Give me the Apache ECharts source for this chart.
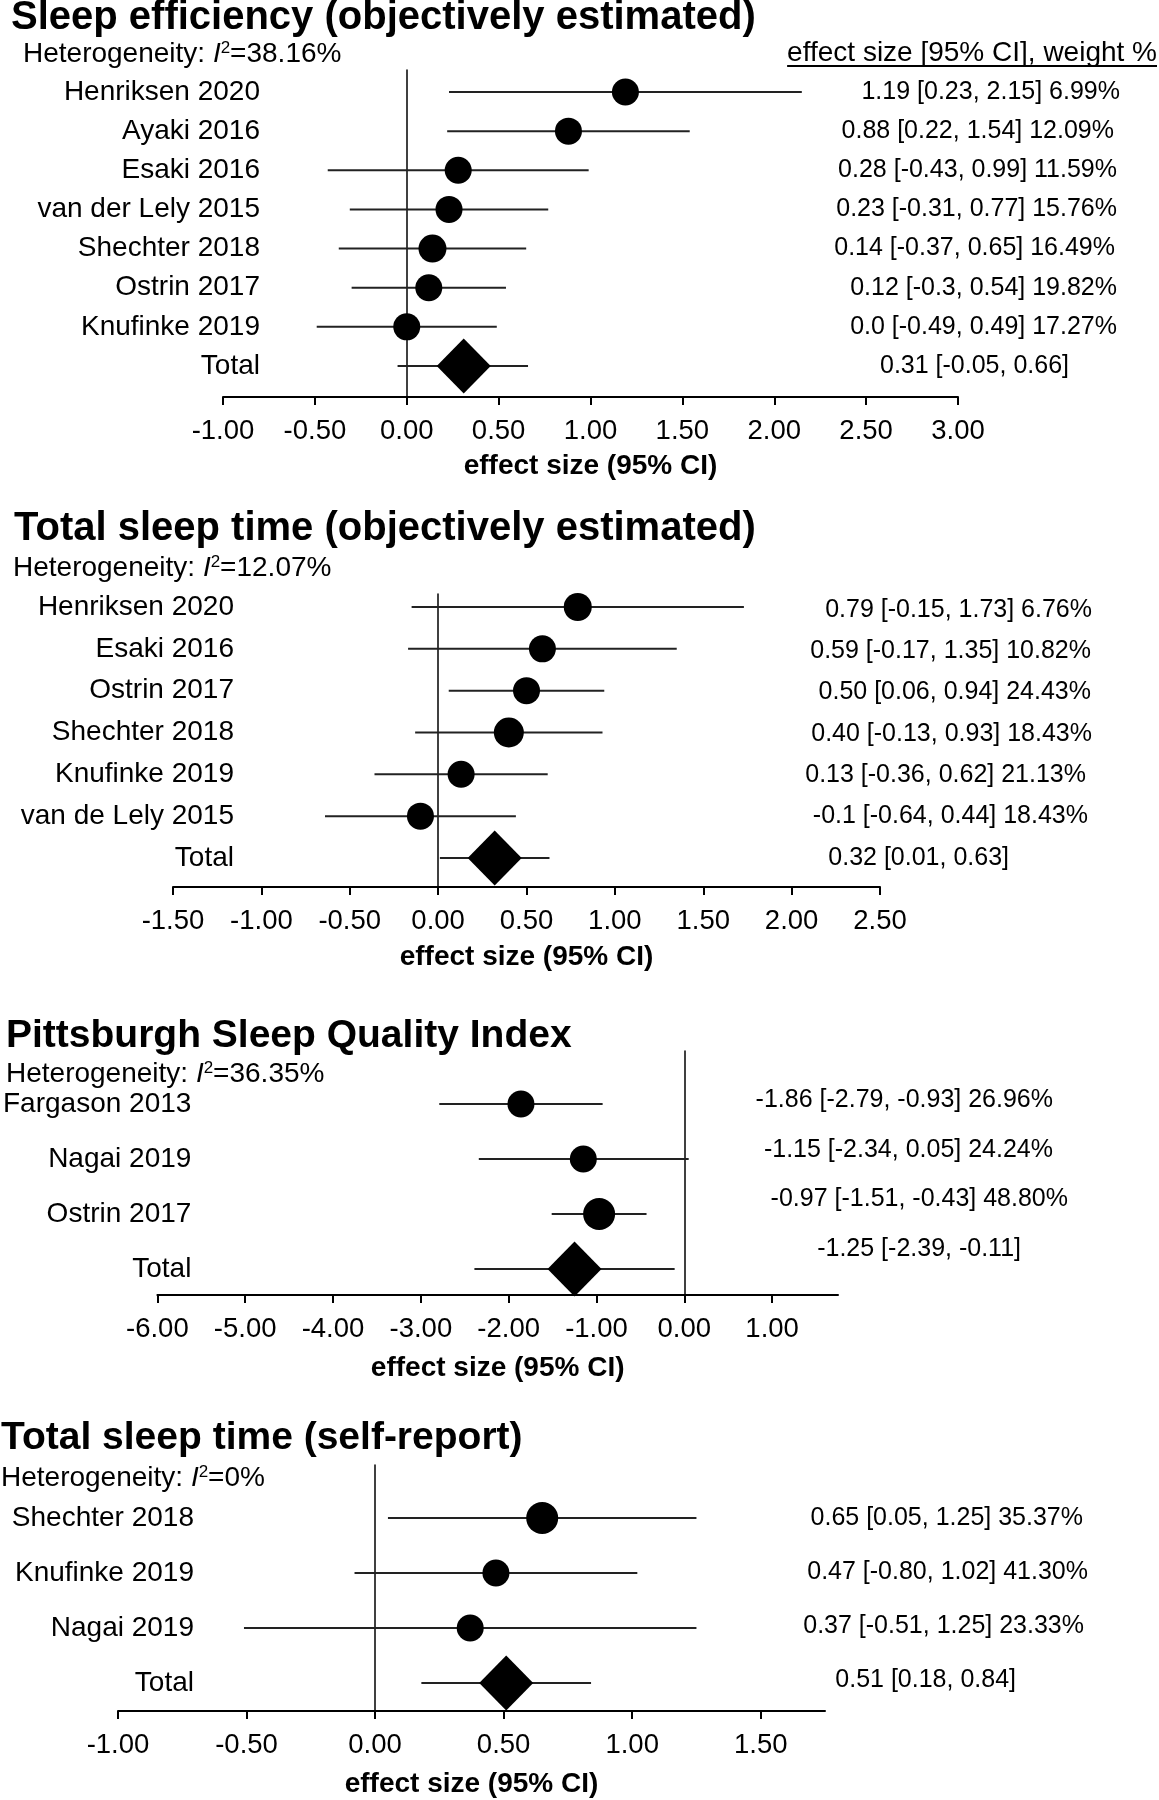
<!DOCTYPE html>
<html><head><meta charset="utf-8">
<script src="https://cdn.jsdelivr.net/npm/echarts@6/dist/echarts.min.js"></script>
<style>html,body{margin:0;padding:0;background:#fff}#c{width:1159px;height:1800px}</style>
</head><body><div id="c"></div>
<script>
// ---------- DATA ----------
// Panel 1: Sleep efficiency (objectively estimated)
const seStudies = ['Henriksen 2020','Ayaki 2016','Esaki 2016','van der Lely 2015','Shechter 2018','Ostrin 2017','Knufinke 2019'];
const seEst = [1.19, 0.88, 0.28, 0.23, 0.14, 0.12, 0.0];
const seLo  = [0.23, 0.22, -0.43, -0.31, -0.37, -0.30, -0.49];
const seHi  = [2.15, 1.54, 0.99, 0.77, 0.65, 0.54, 0.49];
const seTotal = [0.31, -0.05, 0.66];
const seText = ['1.19 [0.23, 2.15] 6.99%','0.88 [0.22, 1.54] 12.09%','0.28 [-0.43, 0.99] 11.59%','0.23 [-0.31, 0.77] 15.76%','0.14 [-0.37, 0.65] 16.49%','0.12 [-0.3, 0.54] 19.82%','0.0 [-0.49, 0.49] 17.27%','0.31 [-0.05, 0.66]'];
const seTicks = [-1, -0.5, 0, 0.5, 1, 1.5, 2, 2.5, 3];
const seHet = '38.16%';

// Panel 2: Total sleep time (objectively estimated)
const tsoStudies = ['Henriksen 2020','Esaki 2016','Ostrin 2017','Shechter 2018','Knufinke 2019','van de Lely 2015'];
const tsoEst = [0.79, 0.59, 0.50, 0.40, 0.13, -0.10];
const tsoLo  = [-0.15, -0.17, 0.06, -0.13, -0.36, -0.64];
const tsoHi  = [1.73, 1.35, 0.94, 0.93, 0.62, 0.44];
const tsoTotal = [0.32, 0.01, 0.63];
const tsoText = ['0.79 [-0.15, 1.73] 6.76%','0.59 [-0.17, 1.35] 10.82%','0.50 [0.06, 0.94] 24.43%','0.40 [-0.13, 0.93] 18.43%','0.13 [-0.36, 0.62] 21.13%','-0.1 [-0.64, 0.44] 18.43%','0.32 [0.01, 0.63]'];
const tsoTicks = [-1.5, -1, -0.5, 0, 0.5, 1, 1.5, 2, 2.5];
const tsoHet = '12.07%';

// Panel 3: Pittsburgh Sleep Quality Index
const psqiStudies = ['Fargason 2013','Nagai 2019','Ostrin 2017'];
const psqiEst = [-1.86, -1.15, -0.97];
const psqiLo  = [-2.79, -2.34, -1.51];
const psqiHi  = [-0.93, 0.05, -0.43];
const psqiTotal = [-1.25, -2.39, -0.11];
const psqiText = ['-1.86 [-2.79, -0.93] 26.96%','-1.15 [-2.34, 0.05] 24.24%','-0.97 [-1.51, -0.43] 48.80%','-1.25 [-2.39, -0.11]'];
const psqiTicks = [-6, -5, -4, -3, -2, -1, 0, 1];
const psqiHet = '36.35%';

// Panel 4: Total sleep time (self-report)
const tssStudies = ['Shechter 2018','Knufinke 2019','Nagai 2019'];
const tssEst = [0.65, 0.47, 0.37];
const tssLo  = [0.05, -0.08, -0.51];
const tssHi  = [1.25, 1.02, 1.25];
const tssTotal = [0.51, 0.18, 0.84];
const tssText = ['0.65 [0.05, 1.25] 35.37%','0.47 [-0.80, 1.02] 41.30%','0.37 [-0.51, 1.25] 23.33%','0.51 [0.18, 0.84]'];
const tssTicks = [-1, -0.5, 0, 0.5, 1, 1.5];
const tssHet = '0%';

// ---------- LAYOUT / STYLE ----------
const FONT = "'Liberation Sans', Arial, Helvetica, sans-serif";
const panels = [
  {title:'Sleep efficiency (objectively estimated)', het:seHet, studies:seStudies, est:seEst, lo:seLo, hi:seHi, total:seTotal, text:seText, ticks:seTicks,
   xMax:3, gridLeft:223, gridRight:958, top:70, axisY:397, row0:92, step:39.14, labelRight:260, nameGap:55, titleSize:40,
   titleX:11, titleY:18, hetX:23, hetY:54, rtRow0:92, rtStep:39.14,
   rtX:[1120,1114,1117,1117,1115,1117,1117,1069], sizes:[27,27,27,27,28,27,27]},
  {title:'Total sleep time (objectively estimated)', het:tsoHet, studies:tsoStudies, est:tsoEst, lo:tsoLo, hi:tsoHi, total:tsoTotal, text:tsoText, ticks:tsoTicks,
   xMax:2.5, gridLeft:173, gridRight:880, top:594, axisY:887, row0:607, step:41.83, labelRight:234, nameGap:56, titleSize:40,
   titleX:14, titleY:529, hetX:13, hetY:568, rtRow0:610, rtStep:41.3,
   rtX:[1092,1091,1091,1092,1086,1088,1009], sizes:[28,27,27,30,27,27]},
  {title:'Pittsburgh Sleep Quality Index', het:psqiHet, studies:psqiStudies, est:psqiEst, lo:psqiLo, hi:psqiHi, total:psqiTotal, text:psqiText, ticks:psqiTicks,
   xMax:1.75, gridLeft:154, gridRight:838, top:1051, axisY:1295, row0:1104, step:55, labelRight:188, nameGap:59, titleSize:39,
   titleX:6, titleY:1036, hetX:6, hetY:1074, rtRow0:1100, rtStep:49.8,
   rtX:[1053,1053,1068,1021], sizes:[27,27,32]},
  {title:'Total sleep time (self-report)', het:tssHet, studies:tssStudies, est:tssEst, lo:tssLo, hi:tssHi, total:tssTotal, text:tssText, ticks:tssTicks,
   xMax:1.75, gridLeft:118, gridRight:825, top:1465, axisY:1711, row0:1518, step:55, labelRight:194, nameGap:59, titleSize:39,
   titleX:1, titleY:1438, hetX:1, hetY:1478, rtRow0:1518, rtStep:54,
   rtX:[1083,1088,1084,1016], sizes:[32,27,27]}
];

const chart = echarts.init(document.getElementById('c'), null, {renderer:'canvas', width:1159, height:1800});

const grid = [], xAxis = [], yAxis = [], series = [], graphic = [];

function measure(txt, font){
  const c = document.createElement('canvas').getContext('2d');
  c.font = font; return c.measureText(txt).width;
}

panels.forEach((p, k) => {
  const n = p.studies.length;
  const yMin = (p.top - p.row0) / p.step;
  const yMax = (p.axisY - p.row0) / p.step;
  grid.push({left:p.gridLeft, top:p.top, width:p.gridRight - p.gridLeft, height:p.axisY - p.top, containLabel:false});
  xAxis.push({
    type:'value', gridIndex:k, min:p.ticks[0], max:p.xMax, position:'bottom',
    axisLine:{show:true, onZero:false, lineStyle:{color:'#000', width:2}},
    axisTick:{show:true, length:8, inside:false, lineStyle:{color:'#000', width:2}, customValues:p.ticks},
    axisLabel:{show:true, margin:20, fontFamily:FONT, fontSize:27.5, color:'#000', customValues:p.ticks,
      formatter: v => Number(v).toFixed(2)},
    splitLine:{show:false},
    name:'effect size (95% CI)', nameLocation:'middle', nameGap:p.nameGap,
    nameTextStyle:{fontFamily:FONT, fontSize:28, fontWeight:'bold', color:'#000'}
  });
  // zero reference line (y axis lying on x = 0)
  yAxis.push({
    type:'value', gridIndex:k, inverse:true, min:yMin, max:yMax,
    axisLine:{show:true, onZero:true, lineStyle:{color:'#000', width:1.5}},
    axisTick:{show:false}, axisLabel:{show:false}, splitLine:{show:false}
  });
  // study label axis
  const rowsIdx = [];
  for (let i = 0; i <= n; i++) rowsIdx.push(i);
  const names = p.studies.concat(['Total']);
  yAxis.push({
    type:'value', gridIndex:k, inverse:true, min:yMin, max:yMax, position:'left',
    offset: p.gridLeft - p.labelRight,
    axisLine:{show:false, onZero:false}, axisTick:{show:false}, splitLine:{show:false},
    axisLabel:{show:true, margin:0, fontFamily:FONT, fontSize:28, color:'#000', customValues:rowsIdx,
      formatter: v => names[Math.round(v)] || ''}
  });
  const data = [];
  for (let i = 0; i < n; i++) data.push([p.est[i], p.lo[i], p.hi[i], i, 0]);
  data.push([p.total[0], p.total[1], p.total[2], n, 1]);
  series.push({
    type:'custom', xAxisIndex:k, yAxisIndex:2*k, clip:false, silent:true,
    data:data,
    renderItem:function(params, api){
      const i = api.value(3);
      const m = api.coord([api.value(0), i]);
      const l = api.coord([api.value(1), i]);
      const h = api.coord([api.value(2), i]);
      const ch = [{type:'line', shape:{x1:l[0], y1:l[1], x2:h[0], y2:h[1]}, style:{stroke:'#222', lineWidth:2}}];
      if (api.value(4)) {
        const dw = 54, dh = 55;
        ch.push({type:'polygon', shape:{points:[[m[0], m[1]-dh/2],[m[0]+dw/2, m[1]],[m[0], m[1]+dh/2],[m[0]-dw/2, m[1]]]}, style:{fill:'#000'}});
      } else {
        const s = p.sizes[params.dataIndex] || 27;
        ch.push({type:'circle', shape:{cx:m[0], cy:m[1], r:s/2}, style:{fill:'#000'}});
      }
      return {type:'group', children:ch};
    }
  });
  // titles
  graphic.push({type:'text', x:p.titleX, y:p.titleY, style:{text:p.title, font:'bold ' + p.titleSize + 'px ' + FONT, fill:'#000', verticalAlign:'middle'}});
  graphic.push({type:'text', x:p.hetX, y:p.hetY, style:{
    text:'Heterogeneity: {it|I}{sup|2}=' + p.het, font:'28px ' + FONT, fill:'#000', verticalAlign:'middle',
    rich:{it:{fontStyle:'italic', fontSize:28, fontFamily:FONT, verticalAlign:'middle'},
          sup:{fontSize:17, fontFamily:FONT, verticalAlign:'top'}}}});
  // right column texts
  p.text.forEach((t, i) => {
    graphic.push({type:'text', x:p.rtX[i], y:p.rtRow0 + i * p.rtStep, style:{text:t, font:'25px ' + FONT, fill:'#000', align:'right', verticalAlign:'middle'}});
  });
});

// header of right column (panel 1)
const hdr = 'effect size [95% CI], weight %';
const hdrFont = '28px ' + FONT;
const hw = measure(hdr, hdrFont);
graphic.push({type:'text', x:1157, y:53, style:{text:hdr, font:hdrFont, fill:'#000', align:'right', verticalAlign:'middle'}});
graphic.push({type:'line', shape:{x1:1157 - hw, y1:66, x2:1157, y2:66}, style:{stroke:'#000', lineWidth:2}});

chart.setOption({
  animation:false,
  backgroundColor:'#fff',
  grid:grid, xAxis:xAxis, yAxis:yAxis, series:series, graphic:graphic
});
</script></body></html>
